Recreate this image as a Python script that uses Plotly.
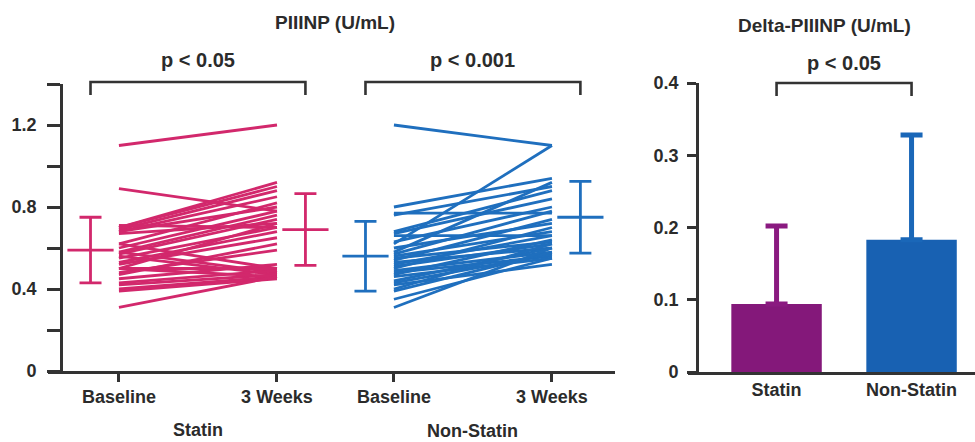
import plotly.graph_objects as go

# ---------------- data ----------------
time_labels = ["Baseline", "3 Weeks"]
groups = ["Statin", "Non-Statin"]

statin_baseline = [1.10, 0.89, 0.70, 0.70, 0.69, 0.68, 0.68, 0.67, 0.71, 0.62,
                   0.60, 0.58, 0.57, 0.62, 0.55, 0.53, 0.52, 0.50, 0.58, 0.56,
                   0.50, 0.48, 0.47, 0.45, 0.43, 0.42, 0.40, 0.39, 0.50, 0.31]
statin_3wk = [1.20, 0.78, 0.92, 0.90, 0.88, 0.85, 0.80, 0.72, 0.70, 0.82,
              0.78, 0.76, 0.74, 0.50, 0.70, 0.68, 0.65, 0.72, 0.48, 0.47,
              0.50, 0.59, 0.62, 0.52, 0.49, 0.47, 0.46, 0.45, 0.46, 0.46]

nonstatin_baseline = [1.20, 0.62, 0.80, 0.77, 0.76, 0.68, 0.58, 0.67, 0.66, 0.63,
                      0.60, 0.57, 0.56, 0.55, 0.54, 0.53, 0.52, 0.51, 0.50, 0.49,
                      0.48, 0.47, 0.46, 0.44, 0.43, 0.42, 0.40, 0.39, 0.35, 0.31]
nonstatin_3wk = [1.10, 1.10, 0.94, 0.77, 0.90, 0.88, 0.92, 0.84, 0.66, 0.80,
                 0.72, 0.78, 0.68, 0.63, 0.74, 0.60, 0.66, 0.62, 0.70, 0.58,
                 0.56, 0.64, 0.55, 0.60, 0.57, 0.52, 0.62, 0.58, 0.55, 0.60]

# mean and SD shown beside each column
statin_mean = [0.59, 0.69]
statin_sd = [0.16, 0.175]
nonstatin_mean = [0.56, 0.75]
nonstatin_sd = [0.17, 0.175]

delta_mean = [0.094, 0.183]
delta_sd = [0.108, 0.145]

p_left = ["p < 0.05", "p < 0.001"]
p_right = "p < 0.05"

# ---------------- style ----------------
W, H = 975, 442
MAG = "#D2286C"
BLU = "#1F6FBE"
BAR_S = "#84187A"
BAR_N = "#1861B2"
ERR_S = "#8A1A80"
ERR_N = "#1A67B8"
AX = "#333333"
TXT = "#2b2b2b"
FONT = "Liberation Sans, Arial, sans-serif"

# x positions of the four columns on the left panel (category slots)
pos = [0.0, 1.0, 1.74, 2.74]
off = 0.18  # error bars placed beside each column

def px_x(p):
    return p / W

def px_y(p):
    return (H - p) / H

fig = go.Figure()

def pair_trace(b, a, x0, x1, color):
    xs, ys = [], []
    for bv, av in zip(b, a):
        xs += [x0, x1, None]
        ys += [bv, av, None]
    return go.Scatter(x=xs, y=ys, mode="lines", line=dict(color=color, width=2.8),
                      hoverinfo="skip", showlegend=False, xaxis="x", yaxis="y")

fig.add_trace(pair_trace(statin_baseline, statin_3wk, pos[0], pos[1], MAG))
fig.add_trace(pair_trace(nonstatin_baseline, nonstatin_3wk, pos[2], pos[3], BLU))

def err_trace(xs, m, sd, color):
    return go.Scatter(x=xs, y=m, mode="markers",
                      marker=dict(symbol="line-ew", size=33, line=dict(color=color, width=2.8)),
                      error_y=dict(type="data", array=sd, visible=True, color=color,
                                   thickness=2.8, width=11),
                      hoverinfo="skip", showlegend=False, xaxis="x", yaxis="y")

fig.add_trace(err_trace([pos[0] - off, pos[1] + off], statin_mean, statin_sd, MAG))
fig.add_trace(err_trace([pos[2] - off, pos[3] + off], nonstatin_mean, nonstatin_sd, BLU))

# right panel bars
bar_cols = [BAR_S, BAR_N]
err_cols = [ERR_S, ERR_N]
for i, g in enumerate(groups):
    fig.add_trace(go.Bar(x=[i], y=[delta_mean[i]], width=0.67,
                         marker=dict(color=bar_cols[i], line=dict(width=0)),
                         error_y=dict(type="data", array=[delta_sd[i]], arrayminus=[0],
                                      symmetric=False, visible=True, color=err_cols[i],
                                      thickness=5, width=11),
                         hoverinfo="skip", showlegend=False, xaxis="x2", yaxis="y2"))

# ---------------- axes ----------------
tick_font = dict(size=18, family=FONT, color=TXT, weight="bold")
common = dict(showgrid=False, zeroline=False, showline=True, linecolor=AX, linewidth=2.6,
              automargin=False, fixedrange=True)
fig.update_layout(
    width=W, height=H,
    margin=dict(l=0, r=0, t=0, b=0, autoexpand=False),
    paper_bgcolor="white", plot_bgcolor="rgba(0,0,0,0)",
    barmode="overlay",
    font=dict(family=FONT, color=TXT),
    xaxis=dict(domain=[px_x(48), px_x(615)], range=[-0.449, 3.139], anchor="y",
               tickmode="array", tickvals=pos, ticktext=time_labels * 2,
               ticks="outside", ticklen=8, tickwidth=2.6, tickcolor=AX,
               tickfont=tick_font, **common),
    yaxis=dict(domain=[px_y(371), px_y(84)], range=[0, 1.4], anchor="free",
               position=px_x(61),
               tickmode="array", tickvals=[0, 0.2, 0.4, 0.6, 0.8, 1.0, 1.2, 1.4],
               ticktext=["0", "", "0.4", "", "0.8", "", "1.2", ""],
               ticks="outside", ticklen=13, tickwidth=2.6, tickcolor=AX,
               ticklabelstandoff=7,
               tickfont=tick_font, **common),
    xaxis2=dict(domain=[px_x(688), 1.0], range=[-0.656, 1.47], anchor="y2",
                tickmode="array", tickvals=[0, 1], ticktext=groups, ticks="",
                tickfont=tick_font, **common),
    yaxis2=dict(domain=[px_y(372), px_y(83)], range=[0, 0.4], anchor="free",
                position=px_x(697),
                tickmode="array", tickvals=[0, 0.1, 0.2, 0.3, 0.4],
                ticktext=["0", "0.1", "0.2", "0.3", "0.4"],
                ticks="outside", ticklen=9, tickwidth=2.6, tickcolor=AX,
                ticklabelstandoff=5,
                tickfont=tick_font, **common),
)

# ---------------- brackets & text ----------------
def bracket(x0, x1, xref, top_px, leg_px):
    yt, yb = px_y(top_px), px_y(leg_px)
    fig.add_shape(type="path", xref=xref, yref="paper",
                  path=f"M {x0},{yb} L {x0},{yt} L {x1},{yt} L {x1},{yb}",
                  line=dict(color=AX, width=2.6))

bracket(pos[0] - off, pos[1] + off, "x", 82, 95)
bracket(pos[2] - off, pos[3] + off, "x", 82, 95)
bracket(0, 1, "x2", 83, 96)

def label(text, x, xref, y_px, size):
    fig.add_annotation(text=f"<b>{text}</b>", x=x, xref=xref, y=px_y(y_px), yref="paper",
                       showarrow=False, xanchor="center", yanchor="middle",
                       font=dict(size=size, family=FONT, color=TXT))

label(p_left[0], (pos[0] + pos[1]) / 2, "x", 60, 20)
label(p_left[1], (pos[2] + pos[3]) / 2, "x", 60, 20)
label(p_right, 0.5, "x2", 63, 20)
label("PIIINP (U/mL)", px_x(335), "paper", 22, 19)
label("Delta-PIIINP (U/mL)", px_x(824), "paper", 25, 19)
label(groups[0], (pos[0] + pos[1]) / 2, "x", 430, 18)
label(groups[1], (pos[2] + pos[3]) / 2, "x", 431, 18)

fig.write_html("out.html", config={"displayModeBar": False})
